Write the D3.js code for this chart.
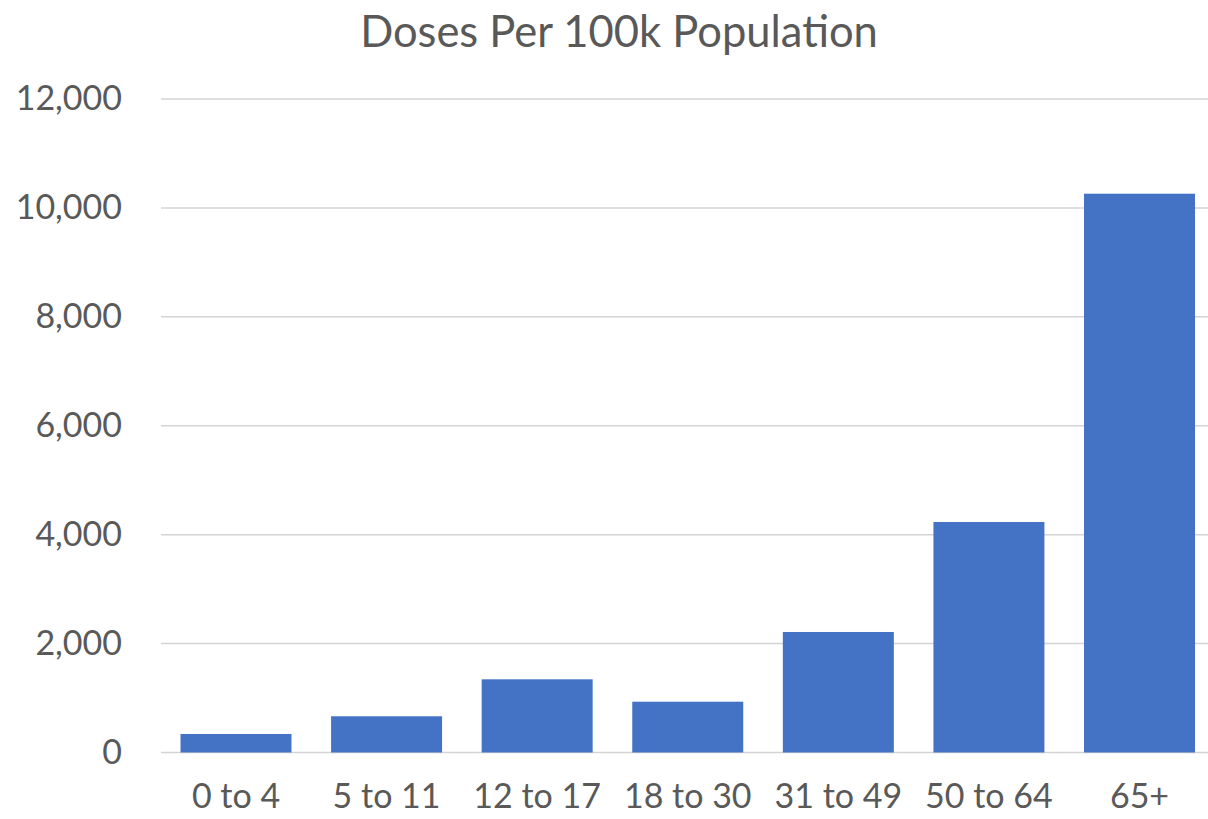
<!DOCTYPE html>
<html>
<head>
<meta charset="utf-8">
<script src="https://cdn.jsdelivr.net/npm/d3@7"></script>
<style>
  html, body { margin: 0; padding: 0; background: #fff; }
  svg text { font-family: Lato, "Open Sans", sans-serif; fill: #595959; }
</style>
</head>
<body>
<svg id="chart" width="1208" height="819"></svg>
<script>
const categories = ["0 to 4", "5 to 11", "12 to 17", "18 to 30", "31 to 49", "50 to 64", "65+"];
const doses = [340, 665, 1344, 933, 2213, 4233, 10261];
const yTicks = [0, 2000, 4000, 6000, 8000, 10000, 12000];
const title = "Doses Per 100k Population";

const svg = d3.select("#chart");
const W = 1208, H = 819;

const x = d3.scaleBand()
  .domain(categories)
  .range([160.7, 1214.8])
  .paddingInner(0.263)
  .paddingOuter(0.1315);

const y = d3.scaleLinear()
  .domain([0, 12000])
  .range([752.5, 99]);

// gridlines
svg.append("g")
  .selectAll("line")
  .data(yTicks)
  .join("line")
  .attr("x1", 161)
  .attr("x2", W)
  .attr("y1", d => y(d))
  .attr("y2", d => y(d))
  .attr("stroke", "#d4d4d4")
  .attr("stroke-width", 1.5);

// y axis labels
const yAxis = d3.axisLeft(y).tickValues(yTicks).tickFormat(d3.format(",")).tickSize(0).tickPadding(0);
const gy = svg.append("g").attr("transform", "translate(122,0)").call(yAxis);
gy.select(".domain").remove();
gy.selectAll("text")
  .attr("font-size", 34)
  .attr("fill", "#595959")
  .attr("font-family", "Lato, 'Open Sans', sans-serif");

// bars
svg.append("g")
  .selectAll("rect")
  .data(categories.map((c, i) => ({c, v: doses[i]})))
  .join("rect")
  .attr("x", d => x(d.c))
  .attr("width", x.bandwidth())
  .attr("y", d => y(d.v))
  .attr("height", d => y(0) - y(d.v))
  .attr("fill", "#4472C4");

// x axis labels
const xAxis = d3.axisBottom(x).tickSize(0).tickPadding(0);
const gx = svg.append("g").attr("transform", "translate(0,752.5)").call(xAxis);
gx.select(".domain").remove();
gx.selectAll("text")
  .attr("font-size", 34)
  .attr("dy", null)
  .attr("y", 55)
  .attr("fill", "#595959")
  .attr("font-family", "Lato, 'Open Sans', sans-serif");

// title
svg.append("text")
  .attr("x", 619)
  .attr("y", 47)
  .attr("text-anchor", "middle")
  .attr("font-size", 43.5)
  .text(title);
</script>
</body>
</html>
